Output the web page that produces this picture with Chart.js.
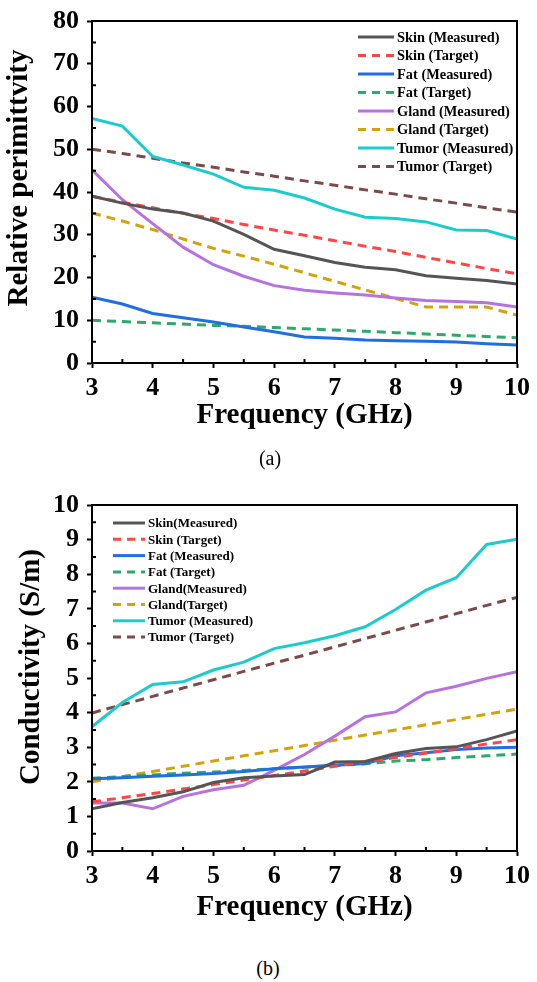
<!DOCTYPE html>
<html>
<head>
<meta charset="utf-8">
<script src="https://cdn.jsdelivr.net/npm/chart.js@4.4.1/dist/chart.umd.min.js"></script>
<style>
  body { margin: 0; background: #fff; width: 537px; height: 982px; position: relative; overflow: hidden; }
  .box { position: absolute; left: 0; width: 537px; }
  .cap { position: absolute; width: 80px; text-align: center; font-family: 'Liberation Serif', serif; font-size: 20px; color: #000; line-height: 20px; }
</style>
</head>
<body>
<div class="box" style="top:0;height:460px"><canvas id="cA" width="537" height="460"></canvas></div>
<div class="cap" style="left:230px;top:448px">(a)</div>
<div class="box" style="top:460px;height:480px"><canvas id="cB" width="537" height="480"></canvas></div>
<div class="cap" style="left:228px;top:958px">(b)</div>
<script>
// frequency points (GHz)
const freq = [3, 3.5, 4, 4.5, 5, 5.5, 6, 6.5, 7, 7.5, 8, 8.5, 9, 9.5, 10];

// (a) relative permittivity
const permSkinMeas  = [39.0, 37.4, 36.0, 35.1, 33.2, 30.1, 26.6, 25.1, 23.5, 22.4, 21.8, 20.4, 19.8, 19.3, 18.5];
const permSkinTgt   = [39.0, 37.6, 36.3, 35.0, 33.8, 32.4, 31.1, 29.9, 28.6, 27.3, 26.1, 24.7, 23.4, 22.1, 20.9];
const permFatMeas   = [15.4, 13.8, 11.6, 10.6, 9.6, 8.4, 7.3, 6.1, 5.8, 5.4, 5.2, 5.1, 4.9, 4.5, 4.2];
const permFatTgt    = [10.0, 9.7, 9.4, 9.1, 8.8, 8.6, 8.3, 8.0, 7.7, 7.4, 7.1, 6.8, 6.5, 6.2, 5.9];
const permGlandMeas = [45.2, 38.2, 32.6, 27.1, 23.0, 20.3, 18.1, 17.0, 16.4, 15.9, 15.2, 14.6, 14.4, 14.1, 13.1];
const permGlandTgt  = [35.1, 33.2, 31.2, 29.0, 26.8, 25.0, 23.1, 21.1, 19.1, 17.1, 15.1, 13.1, 13.1, 13.1, 11.2];
const permTumorMeas = [57.2, 55.4, 48.3, 46.3, 44.2, 41.1, 40.4, 38.6, 36.0, 34.1, 33.8, 33.0, 31.1, 31.0, 29.0];
const permTumorTgt  = [50.0, 49.0, 47.9, 46.8, 45.8, 44.7, 43.7, 42.6, 41.6, 40.5, 39.5, 38.4, 37.4, 36.3, 35.3];

// (b) conductivity (S/m)
const condSkinMeas  = [1.22, 1.40, 1.54, 1.71, 1.98, 2.12, 2.17, 2.21, 2.57, 2.59, 2.82, 2.96, 3.01, 3.22, 3.47];
const condSkinTgt   = [1.42, 1.54, 1.66, 1.79, 1.92, 2.05, 2.18, 2.31, 2.45, 2.58, 2.70, 2.83, 2.96, 3.09, 3.22];
const condFatMeas   = [2.09, 2.12, 2.16, 2.20, 2.24, 2.30, 2.38, 2.43, 2.48, 2.53, 2.75, 2.84, 2.93, 2.98, 3.00];
const condFatTgt    = [2.10, 2.15, 2.20, 2.25, 2.28, 2.33, 2.38, 2.42, 2.47, 2.52, 2.60, 2.64, 2.70, 2.75, 2.80];
const condGlandMeas = [1.39, 1.39, 1.22, 1.58, 1.77, 1.90, 2.33, 2.79, 3.32, 3.88, 4.02, 4.57, 4.76, 4.99, 5.18];
const condGlandTgt  = [2.00, 2.15, 2.30, 2.45, 2.60, 2.75, 2.90, 3.05, 3.20, 3.35, 3.50, 3.65, 3.80, 3.95, 4.10];
const condTumorMeas = [3.59, 4.29, 4.81, 4.89, 5.23, 5.46, 5.85, 6.02, 6.22, 6.48, 6.98, 7.54, 7.90, 8.86, 9.01];
const condTumorTgt  = [3.99, 4.23, 4.47, 4.71, 4.95, 5.19, 5.43, 5.66, 5.90, 6.14, 6.38, 6.62, 6.86, 7.10, 7.33];

const permLabels = ['Skin (Measured)', 'Skin (Target)', 'Fat (Measured)', 'Fat (Target)',
                    'Gland (Measured)', 'Gland (Target)', 'Tumor (Measured)', 'Tumor (Target)'];
const condLabels = ['Skin(Measured)', 'Skin (Target)', 'Fat (Measured)', 'Fat (Target)',
                    'Gland(Measured)', 'Gland(Target)', 'Tumor (Measured)', 'Tumor (Target)'];

const colors = ['#555555', '#ff4646', '#1f6fe3', '#2daa6b', '#b673e0', '#d4a20a', '#1ccccc', '#7b4b4b'];
const FONT = "'Liberation Serif', 'Times New Roman', serif";

Chart.defaults.font.family = FONT;
Chart.defaults.color = '#000';

function pts(arr) { return arr.map((v, i) => ({ x: freq[i], y: v })); }

function makeSets(series, labels) {
    return series.map((s, i) => ({
        label: labels[i],
        data: pts(s),
        borderColor: colors[i],
        backgroundColor: colors[i],
        borderWidth: 3,
        borderDash: i % 2 ? [9, 6] : [],
        pointRadius: 0,
        tension: 0,
        fill: false
    }));
}

// frame box + inward minor ticks + y title
const framePlugin = {
    id: 'frame',
    afterDraw(chart, args, o) {
        const { ctx, chartArea: a, scales: { x, y } } = chart;
        ctx.save();
        ctx.strokeStyle = '#000';
        ctx.lineWidth = 2;
        ctx.strokeRect(a.left, a.top, a.right - a.left, a.bottom - a.top);
        ctx.beginPath();
        for (let v = x.min + o.xMinor; v < x.max; v += 2 * o.xMinor) {
            const px = x.getPixelForValue(v);
            ctx.moveTo(px, a.bottom); ctx.lineTo(px, a.bottom - 4);
        }
        for (let v = y.min + o.yMinor; v < y.max; v += 2 * o.yMinor) {
            const py = y.getPixelForValue(v);
            ctx.moveTo(a.left, py); ctx.lineTo(a.left + 4, py);
        }
        ctx.stroke();
        ctx.translate(o.titleX, o.titleY);
        ctx.rotate(-Math.PI / 2);
        ctx.font = 'bold 29px ' + FONT;
        ctx.fillStyle = '#000';
        ctx.textAlign = 'center';
        ctx.textBaseline = 'middle';
        ctx.fillText(o.title, 0, 0);
        ctx.restore();
    }
};

// legend drawn inside the plot
const boxLegend = {
    id: 'boxLegend',
    afterDatasetsDraw(chart, args, o) {
        const ctx = chart.ctx;
        ctx.save();
        ctx.font = 'bold ' + o.size + 'px ' + FONT;
        ctx.textBaseline = 'middle';
        ctx.textAlign = 'left';
        chart.data.datasets.forEach((d, i) => {
            const yy = o.y + i * o.dy;
            ctx.beginPath();
            ctx.strokeStyle = d.borderColor;
            ctx.lineWidth = 3;
            ctx.setLineDash(d.borderDash.length ? [8, 6] : []);
            ctx.moveTo(o.x, yy); ctx.lineTo(o.x + o.len, yy);
            ctx.stroke();
            ctx.setLineDash([]);
            ctx.fillStyle = '#000';
            ctx.fillText(d.label, o.x + o.len + 3, yy + 1);
        });
        ctx.restore();
    }
};

function axisOpts(min, max, step, fitW, fitH, titleText, titlePad, isX) {
    const o = {
        type: 'linear', min: min, max: max,
        ticks: { stepSize: step, color: '#000', padding: isX ? 7 : 8,
                 font: { size: 26, weight: 'bold', lineHeight: 1 } },
        grid: { drawOnChartArea: false, drawTicks: true, tickLength: 5, tickWidth: 2, tickColor: '#000' },
        border: { display: true, color: '#000', width: 2 },
        afterFit: s => { if (isX) s.height = fitH; else s.width = fitW; }
    };
    if (titleText) {
        o.title = { display: true, text: titleText, color: '#000', padding: { top: 0, bottom: titlePad },
                    font: { size: 29, weight: 'bold', lineHeight: 1 } };
    }
    return o;
}

function makeChart(id, sets, yMax, yStep, xH, xTitlePad, topPad, fOpts, lOpts) {
    return new Chart(document.getElementById(id), {
        type: 'line',
        data: { datasets: sets },
        options: {
            responsive: false, animation: false,
            layout: { padding: { left: 0, right: 17, top: topPad, bottom: 0 } },
            plugins: { legend: { display: false }, tooltip: { enabled: false }, frame: fOpts, boxLegend: lOpts },
            scales: {
                x: axisOpts(3, 10, 1, 0, xH, 'Frequency (GHz)', xTitlePad, true),
                y: axisOpts(0, yMax, yStep, 92, 0, null, 0, false)
            }
        },
        plugins: [framePlugin, boxLegend]
    });
}

makeChart('cA',
    makeSets([permSkinMeas, permSkinTgt, permFatMeas, permFatTgt, permGlandMeas, permGlandTgt, permTumorMeas, permTumorTgt], permLabels),
    80, 10, 97, 30, 18,
    { xMinor: 0.5, yMinor: 5, title: 'Relative perimittvity', titleX: 20, titleY: 178 },
    { x: 358, y: 37, dy: 18.5, len: 36, size: 14.4 });

makeChart('cB',
    makeSets([condSkinMeas, condSkinTgt, condFatMeas, condFatTgt, condGlandMeas, condGlandTgt, condTumorMeas, condTumorTgt], condLabels),
    10, 1, 89, 18, 45,
    { xMinor: 0.5, yMinor: 0.5, title: 'Conductivity (S/m)', titleX: 32, titleY: 207 },
    { x: 113, y: 63, dy: 16.3, len: 32, size: 13 });
</script>
</body>
</html>
